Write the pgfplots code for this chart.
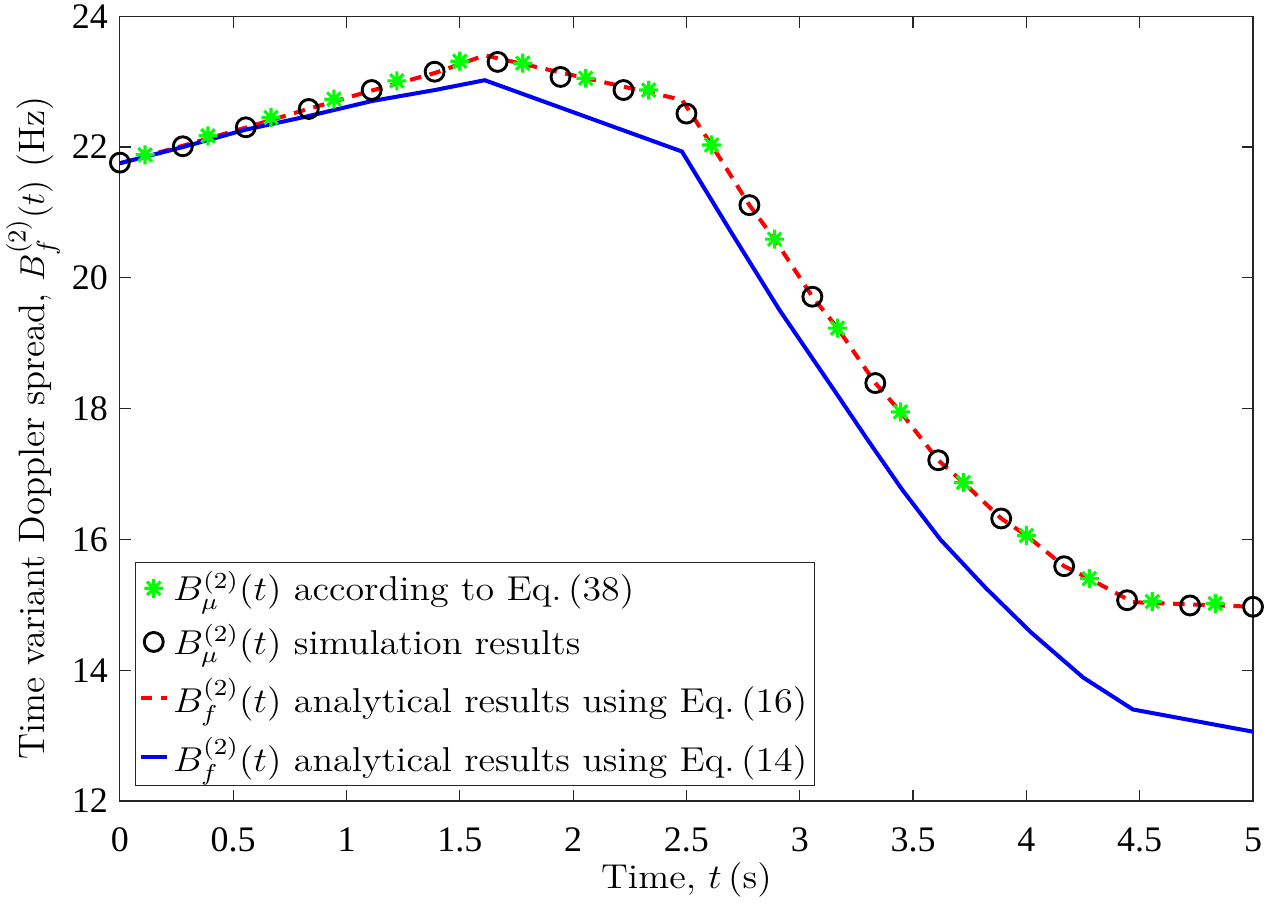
\documentclass[border=0pt,12pt]{standalone}
\usepackage{fontspec}
\newfontfamily\tickfont{Liberation Serif}
\usepackage{graphicx}
\usepackage{pgfplots}
\pgfplotsset{compat=1.18}

% MATLAB style '*' marker: plus and cross together
\pgfdeclareplotmark{mstar}{%
  \pgfpathmoveto{\pgfqpoint{-\pgfplotmarksize}{0pt}}\pgfpathlineto{\pgfqpoint{\pgfplotmarksize}{0pt}}%
  \pgfpathmoveto{\pgfqpoint{0pt}{-\pgfplotmarksize}}\pgfpathlineto{\pgfqpoint{0pt}{\pgfplotmarksize}}%
  \pgfpathmoveto{\pgfqpoint{-0.707\pgfplotmarksize}{-0.707\pgfplotmarksize}}\pgfpathlineto{\pgfqpoint{0.707\pgfplotmarksize}{0.707\pgfplotmarksize}}%
  \pgfpathmoveto{\pgfqpoint{-0.707\pgfplotmarksize}{0.707\pgfplotmarksize}}\pgfpathlineto{\pgfqpoint{0.707\pgfplotmarksize}{-0.707\pgfplotmarksize}}%
  \pgfusepathqstroke}

\definecolor{mgreen}{rgb}{0,1,0}
\definecolor{mred}{rgb}{1,0,0}
\definecolor{mblue}{rgb}{0,0,1}

% legend text is a little wider than tall in the reference
\newcommand{\lt}[1]{\scalebox{1.1}[1]{#1}}

\begin{document}
\begin{tikzpicture}
\begin{axis}[
  scale only axis,
  width=394.1pt, height=273pt,
  xmin=0, xmax=5, ymin=12, ymax=24,
  xtick={0,0.5,...,5}, ytick={12,14,...,24},
  xticklabels={0,0.5,1,1.5,2,2.5,3,3.5,4,4.5,5},
  yticklabels={12,14,16,18,20,22,24},
  tick align=inside,
  major tick length=4pt,
  axis line style={black!85},
  every tick/.style={black!85},
  tick label style={font=\tickfont\fontsize{12.5}{15}\selectfont},
  xticklabel style={yshift=-5pt},
  xlabel={\lt{Time, $t\,$(s)}},
  xlabel style={yshift=4.5pt},
  ylabel={\fontsize{12.8}{15}\selectfont Time variant Doppler spread, $B_f^{(2)}(t)$ (Hz)},
  ylabel style={at={(ticklabel cs:0.475)}, yshift=-4pt},
  legend cell align=left,
  legend style={at={(0.0135,0.019)}, anchor=south west, draw=black!85,
    row sep=2.5pt, inner xsep=1pt, inner ysep=1pt, nodes={inner xsep=1.5pt}},
  legend image code/.code={\draw[mark repeat=2,mark phase=2,#1] plot coordinates {(0cm,0cm) (0.16cm,0cm) (0.32cm,0cm)};},
]

\addplot[mgreen, only marks, mark=mstar, mark size=3.3pt, line width=1.1pt]
coordinates{(0.1111,21.88)(0.3889,22.17)(0.6667,22.45)(0.9444,22.73)(1.2222,23.01)
(1.5,23.31)(1.7778,23.28)(2.0556,23.05)(2.3333,22.87)(2.6111,22.03)(2.8889,20.59)
(3.1667,19.23)(3.4444,17.95)(3.7222,16.87)(4.0,16.06)(4.2778,15.40)(4.5556,15.05)(4.8333,15.02)};
\addlegendentry{\lt{$B_\mu^{(2)}(t)$ according to Eq.\,(38)}}

\addplot[black, only marks, mark=o, mark size=3.3pt, line width=1pt]
coordinates{(0,21.76)(0.2778,22.01)(0.5556,22.30)(0.8333,22.58)(1.1111,22.87)
(1.3889,23.15)(1.6667,23.30)(1.9444,23.07)(2.2222,22.87)(2.5,22.51)(2.7778,21.11)
(3.0556,19.71)(3.3333,18.39)(3.6111,17.21)(3.8889,16.32)(4.1667,15.59)(4.4444,15.07)
(4.7222,14.99)(5.0,14.97)};
\addlegendentry{\lt{$B_\mu^{(2)}(t)$ simulation results}}

\addplot[mred, line width=1.4pt, dash pattern=on 4pt off 3pt]
coordinates{(0,21.75)(0.28,22.02)(0.56,22.30)(0.83,22.58)(1.11,22.86)(1.39,23.13)
(1.61,23.40)(2.48,22.72)(2.6111,22.03)(2.7778,21.11)(2.8889,20.59)(3.0556,19.71)
(3.1667,19.23)(3.3333,18.39)(3.4444,17.95)(3.6111,17.21)(3.7222,16.87)(3.8889,16.32)
(4.0,16.06)(4.1667,15.59)(4.2778,15.40)(4.47,15.04)(5.0,14.97)};
\addlegendentry{\lt{$B_f^{(2)}(t)$ analytical results using Eq.\,(16)}}

\addplot[mblue, line width=1.4pt]
coordinates{(0,21.75)(0.28,22.0)(0.55,22.26)(0.83,22.47)(1.11,22.70)(1.39,22.87)
(1.61,23.02)(2.48,21.93)(2.7,20.68)(2.91,19.51)(3.15,18.29)(3.3,17.52)(3.45,16.77)
(3.62,16.0)(3.82,15.26)(4.02,14.58)(4.25,13.89)(4.47,13.4)(5,13.06)};
\addlegendentry{\lt{$B_f^{(2)}(t)$ analytical results using Eq.\,(14)}}

\end{axis}
\pgfresetboundingbox
\path (current axis.south west) ++(-41.7pt,-35.5pt) rectangle ([xshift=8pt,yshift=5.6pt]current axis.north east);
\end{tikzpicture}
\end{document}
